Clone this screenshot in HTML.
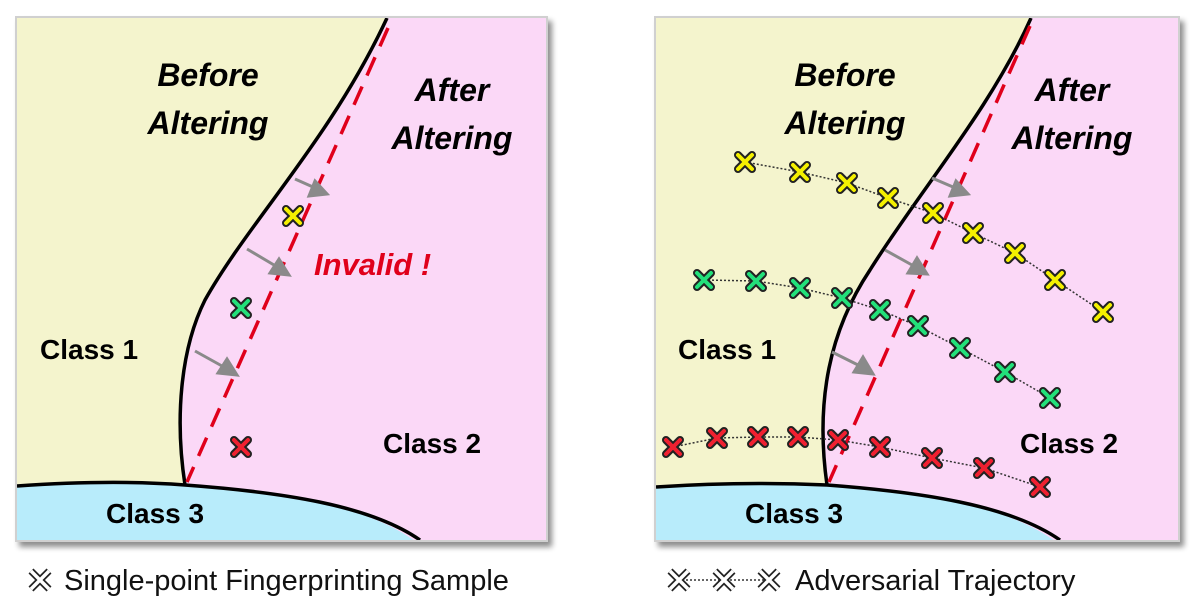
<!DOCTYPE html>
<html><head><meta charset="utf-8"><style>
html,body{margin:0;padding:0;background:#fff;}
svg{display:block;}
text{font-family:"Liberation Sans",sans-serif;}
</style></head><body>
<svg width="1200" height="606" viewBox="0 0 1200 606" xmlns="http://www.w3.org/2000/svg">
<defs>
<filter id="sh" x="-5%" y="-5%" width="112%" height="112%">
<feGaussianBlur in="SourceAlpha" stdDeviation="3"/><feOffset dx="4" dy="5"/>
<feComponentTransfer><feFuncA type="linear" slope="0.45"/></feComponentTransfer>
<feMerge><feMergeNode/><feMergeNode in="SourceGraphic"/></feMerge></filter>
<clipPath id="c1"><rect x="17" y="18" width="529" height="522"/></clipPath>
<clipPath id="c2"><rect x="656" y="18" width="522" height="522"/></clipPath>
<g id="mk"><path d="M-7,-7L7,7M7,-7L-7,7" stroke="#222" stroke-width="8" stroke-linecap="round"/></g>
</defs>

<!-- LEFT PANEL -->
<rect x="15" y="16" width="533" height="526" fill="#d0d0d0" filter="url(#sh)"/>
<g clip-path="url(#c1)">
<rect x="17" y="18" width="529" height="522" fill="#fbd8f7"/>
<path d="M17,18 L387,18 C330,140 250,220 205,300 C180,350 175,420 185,485 C120,480 60,483 17,486 Z" fill="#f4f4cd"/>
<path d="M17,486 C60,483 120,480 185,485 C280,492 370,505 420,545 L17,545 Z" fill="#b8ecfb"/>
<path d="M387,18 C330,140 250,220 205,300 C180,350 175,420 185,485" fill="none" stroke="#000" stroke-width="3.5"/>
<path d="M17,486 C60,483 120,480 185,485 C280,492 370,505 420,540" fill="none" stroke="#000" stroke-width="3.5"/>
<path d="M388,28 L187,482" stroke="#e0001b" stroke-width="3.5" stroke-dasharray="20,12" fill="none"/>
</g>
<g stroke="#8a8a8a" stroke-width="3" fill="#8a8a8a">
<line x1="295" y1="179" x2="313" y2="187"/><polygon points="327,194 309,196 315,181"/>
<line x1="247" y1="249" x2="274" y2="265"/><polygon points="289,275 270,273 279,259"/>
<line x1="195" y1="351" x2="222" y2="366"/><polygon points="237,375 218,373 227,359"/>
</g>
<text x="208" y="86" font-size="32" font-weight="bold" font-style="italic" text-anchor="middle">Before</text>
<text x="208" y="134" font-size="32" font-weight="bold" font-style="italic" text-anchor="middle">Altering</text>
<text x="452" y="101" font-size="32" font-weight="bold" font-style="italic" text-anchor="middle">After</text>
<text x="452" y="149" font-size="32" font-weight="bold" font-style="italic" text-anchor="middle">Altering</text>
<text x="314" y="275" font-size="31" font-weight="bold" font-style="italic" fill="#e0001b">Invalid !</text>
<text x="40" y="359" font-size="28" font-weight="bold">Class 1</text>
<text x="383" y="453" font-size="28" font-weight="bold">Class 2</text>
<text x="106" y="523" font-size="28" font-weight="bold">Class 3</text>
<g transform="translate(293,216)"><use href="#mk"/><path d="M-7,-7L7,7M7,-7L-7,7" stroke="#f4f000" stroke-width="4" stroke-linecap="round"/></g>
<g transform="translate(241,308)"><use href="#mk"/><path d="M-7,-7L7,7M7,-7L-7,7" stroke="#22e07a" stroke-width="4" stroke-linecap="round"/></g>
<g transform="translate(241,447)"><use href="#mk"/><path d="M-7,-7L7,7M7,-7L-7,7" stroke="#f02030" stroke-width="4" stroke-linecap="round"/></g>
<g transform="translate(40,580)" fill="none"><path d="M-9,-9L9,9M9,-9L-9,9" stroke="#222" stroke-width="7"/><path d="M-9,-9L9,9M9,-9L-9,9" stroke="#fff" stroke-width="3.5"/></g>
<text x="64" y="590" font-size="29" fill="#111">Single-point Fingerprinting Sample</text>

<!-- RIGHT PANEL -->
<rect x="654" y="16" width="526" height="526" fill="#d0d0d0" filter="url(#sh)"/>
<g clip-path="url(#c2)">
<rect x="656" y="18" width="522" height="522" fill="#fbd8f7"/>
<path d="M656,18 L1031,18 C990,110 920,190 870,270 C830,330 815,400 827,485 C760,482 700,484 656,487 Z" fill="#f4f4cd"/>
<path d="M656,487 C700,484 760,482 827,485 C920,492 1010,505 1060,545 L656,545 Z" fill="#b8ecfb"/>
<path d="M1031,18 C990,110 920,190 870,270 C830,330 815,400 827,485" fill="none" stroke="#000" stroke-width="3.5"/>
<path d="M656,487 C700,484 760,482 827,485 C920,492 1010,505 1060,540" fill="none" stroke="#000" stroke-width="3.5"/>
<path d="M1030,26 L829,482" stroke="#e0001b" stroke-width="3.5" stroke-dasharray="20,12" fill="none"/>
</g>
<g stroke="#8a8a8a" stroke-width="3" fill="#8a8a8a">
<line x1="932" y1="178" x2="953" y2="187"/><polygon points="968,194 950,196 956,181"/>
<line x1="885" y1="250" x2="912" y2="265"/><polygon points="927,274 908,273 917,258"/>
<line x1="832" y1="352" x2="858" y2="365"/><polygon points="873,374 854,372 863,357"/>
</g>
<text x="845" y="86" font-size="32" font-weight="bold" font-style="italic" text-anchor="middle">Before</text>
<text x="845" y="134" font-size="32" font-weight="bold" font-style="italic" text-anchor="middle">Altering</text>
<text x="1072" y="101" font-size="32" font-weight="bold" font-style="italic" text-anchor="middle">After</text>
<text x="1072" y="149" font-size="32" font-weight="bold" font-style="italic" text-anchor="middle">Altering</text>
<text x="678" y="359" font-size="28" font-weight="bold">Class 1</text>
<text x="1020" y="453" font-size="28" font-weight="bold">Class 2</text>
<text x="745" y="523" font-size="28" font-weight="bold">Class 3</text>
<g fill="none" stroke="#333" stroke-width="1.5" stroke-dasharray="2,2">
<polyline points="745,162 800,172 847,183 888,198 933,213 973,233 1015,253 1055,280 1103,312"/>
<polyline points="704,280 756,281 800,288 842,298 880,310 918,326 960,348 1005,372 1050,398"/>
<polyline points="673,447 717,438 758,437 798,437 838,440 880,447 932,458 984,468 1040,487"/>
</g>
<g>
<g transform="translate(745,162)"><use href="#mk"/><path d="M-7,-7L7,7M7,-7L-7,7" stroke="#f4f000" stroke-width="4" stroke-linecap="round"/></g>
<g transform="translate(800,172)"><use href="#mk"/><path d="M-7,-7L7,7M7,-7L-7,7" stroke="#f4f000" stroke-width="4" stroke-linecap="round"/></g>
<g transform="translate(847,183)"><use href="#mk"/><path d="M-7,-7L7,7M7,-7L-7,7" stroke="#f4f000" stroke-width="4" stroke-linecap="round"/></g>
<g transform="translate(888,198)"><use href="#mk"/><path d="M-7,-7L7,7M7,-7L-7,7" stroke="#f4f000" stroke-width="4" stroke-linecap="round"/></g>
<g transform="translate(933,213)"><use href="#mk"/><path d="M-7,-7L7,7M7,-7L-7,7" stroke="#f4f000" stroke-width="4" stroke-linecap="round"/></g>
<g transform="translate(973,233)"><use href="#mk"/><path d="M-7,-7L7,7M7,-7L-7,7" stroke="#f4f000" stroke-width="4" stroke-linecap="round"/></g>
<g transform="translate(1015,253)"><use href="#mk"/><path d="M-7,-7L7,7M7,-7L-7,7" stroke="#f4f000" stroke-width="4" stroke-linecap="round"/></g>
<g transform="translate(1055,280)"><use href="#mk"/><path d="M-7,-7L7,7M7,-7L-7,7" stroke="#f4f000" stroke-width="4" stroke-linecap="round"/></g>
<g transform="translate(1103,312)"><use href="#mk"/><path d="M-7,-7L7,7M7,-7L-7,7" stroke="#f4f000" stroke-width="4" stroke-linecap="round"/></g>
</g>
<g>
<g transform="translate(704,280)"><use href="#mk"/><path d="M-7,-7L7,7M7,-7L-7,7" stroke="#22e07a" stroke-width="4" stroke-linecap="round"/></g>
<g transform="translate(756,281)"><use href="#mk"/><path d="M-7,-7L7,7M7,-7L-7,7" stroke="#22e07a" stroke-width="4" stroke-linecap="round"/></g>
<g transform="translate(800,288)"><use href="#mk"/><path d="M-7,-7L7,7M7,-7L-7,7" stroke="#22e07a" stroke-width="4" stroke-linecap="round"/></g>
<g transform="translate(842,298)"><use href="#mk"/><path d="M-7,-7L7,7M7,-7L-7,7" stroke="#22e07a" stroke-width="4" stroke-linecap="round"/></g>
<g transform="translate(880,310)"><use href="#mk"/><path d="M-7,-7L7,7M7,-7L-7,7" stroke="#22e07a" stroke-width="4" stroke-linecap="round"/></g>
<g transform="translate(918,326)"><use href="#mk"/><path d="M-7,-7L7,7M7,-7L-7,7" stroke="#22e07a" stroke-width="4" stroke-linecap="round"/></g>
<g transform="translate(960,348)"><use href="#mk"/><path d="M-7,-7L7,7M7,-7L-7,7" stroke="#22e07a" stroke-width="4" stroke-linecap="round"/></g>
<g transform="translate(1005,372)"><use href="#mk"/><path d="M-7,-7L7,7M7,-7L-7,7" stroke="#22e07a" stroke-width="4" stroke-linecap="round"/></g>
<g transform="translate(1050,398)"><use href="#mk"/><path d="M-7,-7L7,7M7,-7L-7,7" stroke="#22e07a" stroke-width="4" stroke-linecap="round"/></g>
</g>
<g>
<g transform="translate(673,447)"><use href="#mk"/><path d="M-7,-7L7,7M7,-7L-7,7" stroke="#f02030" stroke-width="4" stroke-linecap="round"/></g>
<g transform="translate(717,438)"><use href="#mk"/><path d="M-7,-7L7,7M7,-7L-7,7" stroke="#f02030" stroke-width="4" stroke-linecap="round"/></g>
<g transform="translate(758,437)"><use href="#mk"/><path d="M-7,-7L7,7M7,-7L-7,7" stroke="#f02030" stroke-width="4" stroke-linecap="round"/></g>
<g transform="translate(798,437)"><use href="#mk"/><path d="M-7,-7L7,7M7,-7L-7,7" stroke="#f02030" stroke-width="4" stroke-linecap="round"/></g>
<g transform="translate(838,440)"><use href="#mk"/><path d="M-7,-7L7,7M7,-7L-7,7" stroke="#f02030" stroke-width="4" stroke-linecap="round"/></g>
<g transform="translate(880,447)"><use href="#mk"/><path d="M-7,-7L7,7M7,-7L-7,7" stroke="#f02030" stroke-width="4" stroke-linecap="round"/></g>
<g transform="translate(932,458)"><use href="#mk"/><path d="M-7,-7L7,7M7,-7L-7,7" stroke="#f02030" stroke-width="4" stroke-linecap="round"/></g>
<g transform="translate(984,468)"><use href="#mk"/><path d="M-7,-7L7,7M7,-7L-7,7" stroke="#f02030" stroke-width="4" stroke-linecap="round"/></g>
<g transform="translate(1040,487)"><use href="#mk"/><path d="M-7,-7L7,7M7,-7L-7,7" stroke="#f02030" stroke-width="4" stroke-linecap="round"/></g>
</g>
<line x1="678" y1="580" x2="770" y2="580" stroke="#333" stroke-width="1.5" stroke-dasharray="2,2"/>
<g fill="none">
<g transform="translate(679,580)"><path d="M-9,-9L9,9M9,-9L-9,9" stroke="#222" stroke-width="7"/><path d="M-9,-9L9,9M9,-9L-9,9" stroke="#fff" stroke-width="3.5"/></g>
<g transform="translate(724,580)"><path d="M-9,-9L9,9M9,-9L-9,9" stroke="#222" stroke-width="7"/><path d="M-9,-9L9,9M9,-9L-9,9" stroke="#fff" stroke-width="3.5"/></g>
<g transform="translate(769,580)"><path d="M-9,-9L9,9M9,-9L-9,9" stroke="#222" stroke-width="7"/><path d="M-9,-9L9,9M9,-9L-9,9" stroke="#fff" stroke-width="3.5"/></g>
</g>
<text x="795" y="590" font-size="29" fill="#111">Adversarial Trajectory</text>
</svg>
</body></html>
